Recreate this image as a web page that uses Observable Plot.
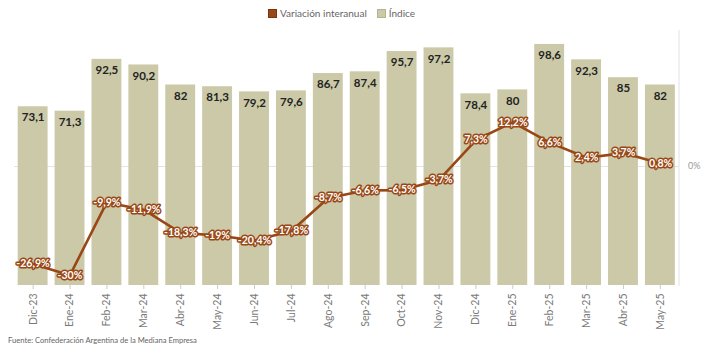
<!DOCTYPE html>
<html>
<head>
<meta charset="utf-8">
<script src="https://cdn.jsdelivr.net/npm/d3@7"></script>
<script src="https://cdn.jsdelivr.net/npm/@observablehq/plot@0.6"></script>
<style>
  body { margin:0; background:#fff; font-family: Lato, "Open Sans", sans-serif; }
  #wrap { position:relative; width:706px; height:353px; }
  #legend { position:absolute; top:7px; left:268px; display:flex; align-items:center; font-size:10px; color:#666; white-space:nowrap; }
  #legend .sw { width:9px; height:9px; display:inline-block; margin-right:3px; box-sizing:border-box; }
  #legend .item { display:flex; align-items:center; margin-right:10px; }
  #chart { position:absolute; top:22px; left:0; width:706px; height:308px; }
  #chart svg { position:absolute; top:0; left:0; }
  #caption { position:absolute; top:335px; left:8px; font-size:7.6px; color:#666; }
</style>
</head>
<body>
<div id="wrap">
  <div id="legend">
    <span class="item"><span class="sw" style="background:#9a4716;border:1px solid #7a3510"></span>Variación interanual</span>
    <span class="item"><span class="sw" style="background:#cbc9a7;border:1px solid #b5b38f"></span>Índice</span>
  </div>
  <div id="chart"></div>
  <div id="caption">Fuente: Confederación Argentina de la Mediana Empresa</div>
</div>
<script>
const months = ["Dic-23","Ene-24","Feb-24","Mar-24","Abr-24","May-24","Jun-24","Jul-24","Ago-24","Sep-24","Oct-24","Nov-24","Dic-24","Ene-25","Feb-25","Mar-25","Abr-25","May-25"];
const indice = [73.1,71.3,92.5,90.2,82,81.3,79.2,79.6,86.7,87.4,95.7,97.2,78.4,80,98.6,92.3,85,82];
const variacion = [-26.9,-30,-9.9,-11.9,-18.3,-19,-20.4,-17.8,-8.7,-6.6,-6.5,-3.7,7.3,12.2,6.6,2.4,3.7,0.8];

const data = months.map((m, i) => ({m, indice: indice[i], v: variacion[i]}));
const fmt = x => String(x).replace(".", ",");

const W = 706, H = 308;
const common = {
  width: W, height: H,
  marginTop: 8, marginBottom: 45, marginLeft: 14, marginRight: 27.5,
  style: {background: "transparent", fontFamily: "Lato, 'Open Sans', sans-serif", overflow: "visible"}
};
const xOpt = {domain: months, paddingInner: 0.19, paddingOuter: 0.1, align: 0.5, round: false};
const yLine = {domain: [-32.8, 37.5]};
const brown = "#9a4716";

// Layer 1: grid at 0%, right axis, right border line
const layer1 = Plot.plot({
  ...common,
  x: {...xOpt, axis: null},
  y: {...yLine, axis: null},
  marks: [
    Plot.ruleY([0], {stroke: "#e4e4e4", strokeWidth: 1}),
    Plot.frame({anchor: "right", stroke: "#e2e2e2"}),
    Plot.axisY({anchor: "right", ticks: [0], tickFormat: d => d + "%", tickSize: 0, tickPadding: 9, fontSize: 9, color: "#999", label: null})
  ]
});

// Layer 2: bars + x axis
const layer2 = Plot.plot({
  ...common,
  x: {...xOpt},
  y: {domain: [0, 104.3], axis: null},
  marks: [
    Plot.barY(data, {x: "m", y: "indice", fill: "#cbc9a7"}),
    Plot.text(data, {x: "m", y: "indice", text: d => fmt(d.indice), dy: 11, fontWeight: "bold", fontSize: 11.5, fill: "#222"}),
    Plot.axisX({tickRotate: -90, tickSize: 4, tickPadding: 4, fontSize: 10.5, color: "#7a7a7a", stroke: "#ccc", label: null})
  ]
});

// Layer 3: line + labels
const layer3 = Plot.plot({
  ...common,
  x: {...xOpt, axis: null},
  y: {...yLine, axis: null},
  marks: [
    Plot.line(data, {x: "m", y: "v", stroke: brown, strokeWidth: 2.6}),
    Plot.text(data, {x: "m", y: "v", text: d => fmt(d.v) + "%", fill: "white", stroke: brown, strokeWidth: 3, fontWeight: "bold", fontSize: 10.5})
  ]
});

const chart = document.getElementById("chart");
chart.appendChild(layer1);
chart.appendChild(layer2);
chart.appendChild(layer3);
</script>
</body>
</html>
